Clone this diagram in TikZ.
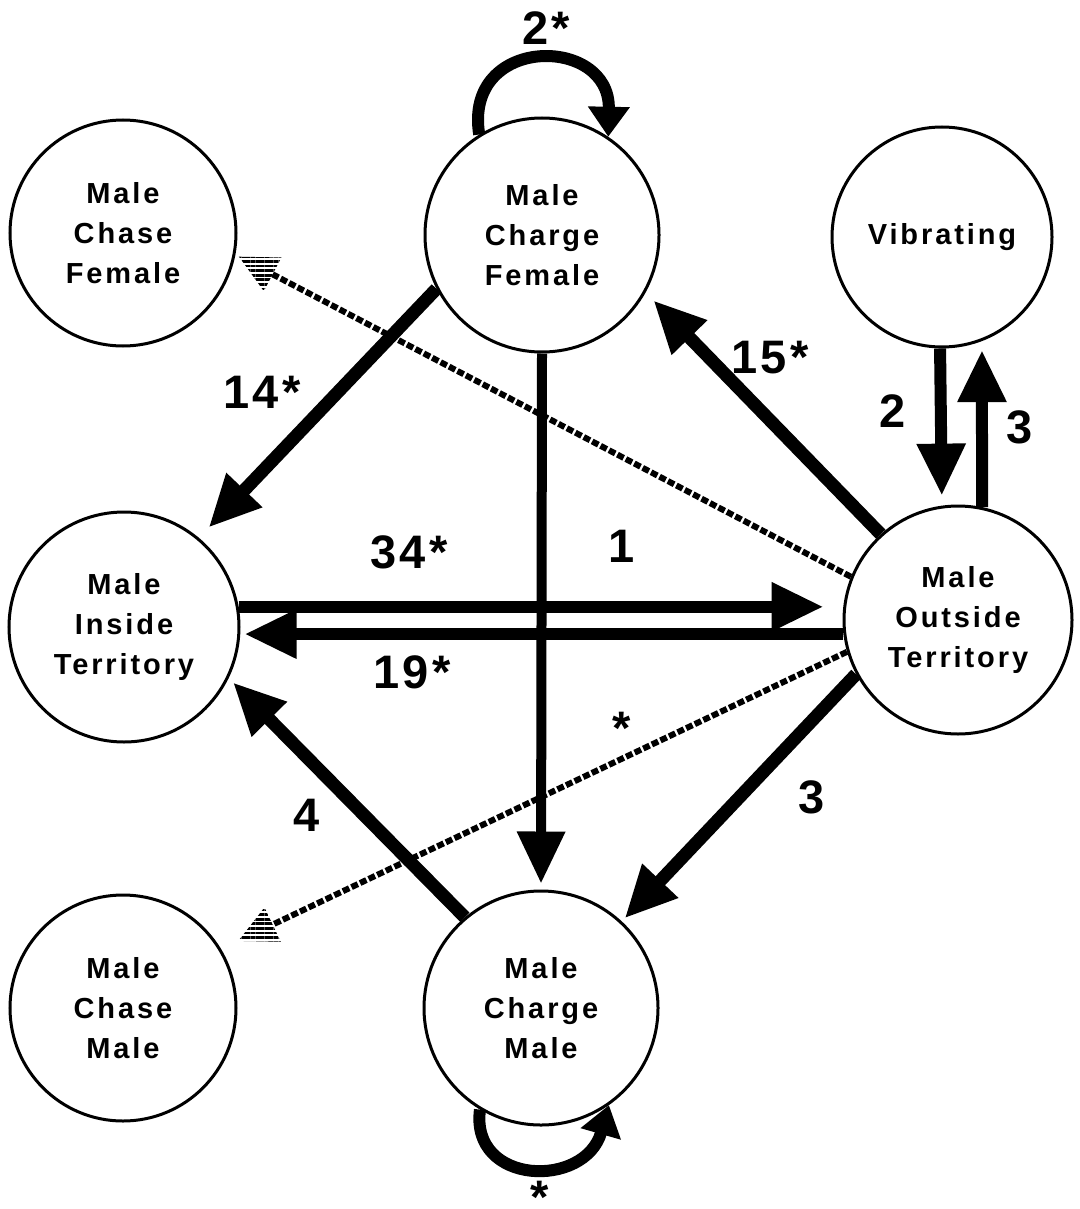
\documentclass[tikz,border=0pt]{standalone}
\usepackage{fontspec}
\setmainfont{Liberation Sans}
\newfontfamily\nodefont[LetterSpace=10]{Liberation Sans}
\newfontfamily\labfont[LetterSpace=7]{Liberation Sans}
\usetikzlibrary{arrows.meta,calc,patterns.meta}
\begin{document}
\begin{tikzpicture}[x=1pt,y=-1pt,
  state/.style={circle,draw,line width=3pt,inner sep=0pt,align=center,
    font=\nodefont\bfseries\fontsize{29}{40}\selectfont},
  lab/.style={font=\labfont\bfseries\fontsize{47}{50}\selectfont,anchor=base,inner sep=0pt},
  arr/.style={line width=13pt,-{Triangle[length=52pt,width=46pt]}},
  loopa/.style={line width=12pt,-{Triangle[length=30pt,width=40pt]}},
  hatch/.style={line width=6pt,dash pattern=on 7pt off 2.5pt},
  hatchhead/.style={pattern={Lines[angle=0,distance=4.6pt,line width=2.8pt]}}
]
\useasboundingbox (0,0) rectangle (1079,1209);

% states
\node[state,minimum size=226pt] (chf) at (123,233) {Male\\Chase\\Female};
\node[state,minimum size=234pt] (cf) at (542,235) {Male\\Charge\\Female};
\node[state,minimum size=220pt] (vib) at (942,237) {Vibrating};
\node[state,minimum size=230pt] (mit) at (124,627) {Male\\Inside\\Territory};
\node[state,minimum size=228pt] (mot) at (958,620) {Male\\Outside\\Territory};
\node[state,minimum size=226pt] (chm) at (123,1008) {Male\\Chase\\Male};
\node[state,minimum size=234pt] (mcm) at (541,1008) {Male\\Charge\\Male};

% hatched connectors
\coordinate (h1tip) at ($(chf.349)!4pt!(mot.158)$);
\coordinate (h1base) at ($(h1tip)!38pt!(mot.158)$);
\draw[hatch] (mot.158) -- (h1base);
\fill[hatchhead] (h1tip) -- ($(h1base)!19pt!90:(h1tip)$) -- ($(h1base)!19pt!-90:(h1tip)$) -- cycle;

\coordinate (h2tip) at ($(chm.31)!19pt!(mot.196)$);
\coordinate (h2base) at ($(h2tip)!38pt!(mot.196)$);
\draw[hatch] (mot.196) -- (h2base);
\fill[hatchhead] (h2tip) -- ($(h2base)!19pt!90:(h2tip)$) -- ($(h2base)!19pt!-90:(h2tip)$) -- cycle;

% solid connectors
\draw[arr,shorten >=14pt] (cf.207) -- (mit.50);
\draw[arr,line width=10pt,shorten >=6pt] (cf.south) -- (mcm.north);
\draw[arr,shorten >=11pt] (mot.132) -- (cf.331);
\draw[arr,line width=12pt,shorten >=10pt] (vib.269.5) -- (mot.98.5);
\draw[arr,line width=12pt,shorten >=9pt] (mot.78) -- (vib.291);
\draw[arr,line width=12pt,shorten >=19pt] (mit.10) -- (mot.west |- mit.10);
\draw[arr,line width=12pt,shorten >=4pt] (mot.187) -- (mit.east |- mot.187);
\draw[arr,shorten >=4pt] (mot.208) -- (mcm.47);
\draw[arr,shorten >=6pt] (mcm.130) -- (mit.334);

% self loops
\draw[loopa] (cf.122) .. controls +(-16,-100) and +(2,-102) .. (cf.56);
\draw[loopa] (mcm.239) .. controls +(-10,76) and +(-24,84) .. (mcm.305);

% labels
\node[lab] (l14) at (262,408) {14*};
\node[lab] (l1) at (622,562) {1};
\node[lab] (l15) at (770,373) {15*};
\node[lab] (l2) at (893,427) {2};
\node[lab] (l3a) at (1020,443) {3};
\node[lab] (l34) at (409,568) {34*};
\node[lab] (l19) at (412,688) {19*};
\node[lab] (lstar) at (622,744) {*};
\node[lab] (l3b) at (812,813) {3};
\node[lab] (l4) at (307,831) {4};
\node[lab] (l2s) at (546,45) {2*};
\node[lab] (lstar2) at (540,1186) {\raisebox{-27pt}[7pt][0pt]{*}};
\end{tikzpicture}
\end{document}
